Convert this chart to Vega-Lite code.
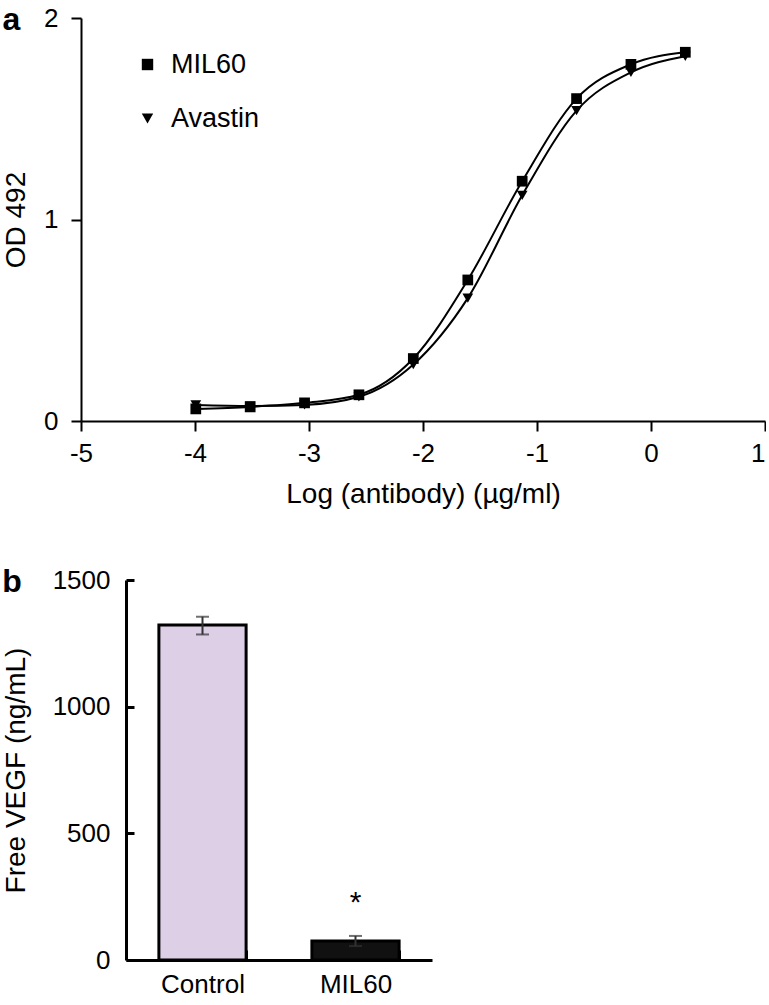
{
  "$schema": "https://vega.github.io/schema/vega-lite/v6.json",
  "padding": {"left": 2, "top": 4, "right": 0, "bottom": 4},
  "background": "white",
  "spacing": 58,
  "columns": 1,
  "align": "none",
  "config": {
    "font": "Liberation Sans",
    "view": {"stroke": null},
    "axis": {
      "grid": false,
      "domainColor": "black",
      "tickColor": "black",
      "labelColor": "black",
      "titleColor": "black",
      "labelFont": "Liberation Sans",
      "titleFont": "Liberation Sans",
      "labelFontSize": 26,
      "titleFontSize": 28,
      "titleFontWeight": "normal"
    },
    "title": {"fontSize": 32, "fontWeight": "bold", "anchor": "start", "frame": "bounds", "color": "black", "font": "Liberation Sans"}
  },
  "concat": [
    {
      "width": 684,
      "height": 403,
      "title": {"text": "a", "dx": 0, "dy": 32, "offset": 0},
      "data": {"values": [
        {"series": "MIL60", "logc": -3.993, "od": 0.06},
        {"series": "MIL60", "logc": -3.516, "od": 0.07},
        {"series": "MIL60", "logc": -3.039, "od": 0.09},
        {"series": "MIL60", "logc": -2.562, "od": 0.13},
        {"series": "MIL60", "logc": -2.085, "od": 0.31},
        {"series": "MIL60", "logc": -1.607, "od": 0.70},
        {"series": "MIL60", "logc": -1.130, "od": 1.19},
        {"series": "MIL60", "logc": -0.653, "od": 1.60},
        {"series": "MIL60", "logc": -0.176, "od": 1.77},
        {"series": "MIL60", "logc": 0.301, "od": 1.83},
        {"series": "Avastin", "logc": -3.993, "od": 0.08},
        {"series": "Avastin", "logc": -3.516, "od": 0.075},
        {"series": "Avastin", "logc": -3.039, "od": 0.08},
        {"series": "Avastin", "logc": -2.562, "od": 0.12},
        {"series": "Avastin", "logc": -2.085, "od": 0.28},
        {"series": "Avastin", "logc": -1.607, "od": 0.61},
        {"series": "Avastin", "logc": -1.130, "od": 1.12},
        {"series": "Avastin", "logc": -0.653, "od": 1.54},
        {"series": "Avastin", "logc": -0.176, "od": 1.73},
        {"series": "Avastin", "logc": 0.301, "od": 1.81}
      ]},
      "encoding": {
        "x": {
          "field": "logc", "type": "quantitative",
          "scale": {"domain": [-5, 1], "nice": false, "zero": false},
          "axis": {"values": [-5, -4, -3, -2, -1, 0, 1], "labelExpr": "'' + datum.value", "labelFlush": false, "labelAlign": {"condition": {"test": "datum.value == 1", "value": "right"}, "value": "center"}, "title": "Log (antibody) (µg/ml)", "tickSize": 10, "labelPadding": 9, "titlePadding": 14, "domainWidth": 2, "tickWidth": 2}
        },
        "y": {
          "field": "od", "type": "quantitative",
          "scale": {"domain": [0, 2], "nice": false},
          "axis": {"values": [0, 1, 2], "labelExpr": "'' + datum.value", "title": "OD 492", "tickSize": 10, "labelPadding": 13, "titlePadding": 13, "domainWidth": 2, "tickWidth": 2}
        }
      },
      "layer": [
        {
          "mark": {"type": "line", "interpolate": "monotone", "color": "black", "strokeWidth": 2},
          "encoding": {"detail": {"field": "series", "type": "nominal"}}
        },
        {
          "mark": {"type": "point", "filled": true, "color": "black", "opacity": 1, "size": 115},
          "encoding": {
            "shape": {
              "field": "series", "type": "nominal",
              "scale": {"domain": ["MIL60", "Avastin"], "range": ["square", "triangle-down"]},
              "legend": {"orient": "none", "legendX": 53, "legendY": 33, "title": null, "labelFontSize": 27, "labelFont": "Liberation Sans", "labelColor": "black", "symbolSize": 130, "symbolFillColor": "black", "symbolStrokeColor": "black", "symbolStrokeWidth": 0, "rowPadding": 26, "labelOffset": 10}
            }
          }
        }
      ]
    },
    {
      "width": 351,
      "height": 380,
      "title": {"text": "b", "dx": 0, "dy": 32, "offset": 0},
      "data": {"values": [
        {"group": "Control", "value": 1322, "lo": 1285, "hi": 1355, "sig": ""},
        {"group": "MIL60", "value": 75, "lo": 55, "hi": 95, "sig": "*"}
      ]},
      "encoding": {
        "x": {
          "field": "group", "type": "nominal", "sort": null,
          "scale": {"range": [45, 351], "paddingInner": 0.43, "paddingOuter": 0.215},
          "axis": {"title": null, "labelAngle": 0, "tickBand": "extent", "tickSize": -10, "labelPadding": 21, "domainWidth": 3, "tickWidth": 3}
        }
      },
      "layer": [
        {
          "mark": {"type": "bar", "stroke": "black", "strokeWidth": 3},
          "encoding": {
            "y": {
              "field": "value", "type": "quantitative", "title": "Free VEGF (ng/mL)",
              "scale": {"domain": [0, 1500], "nice": false},
              "axis": {"values": [0, 500, 1000, 1500], "labelExpr": "'' + datum.value", "title": "Free VEGF (ng/mL)", "offset": -45, "tickSize": -8, "labelPadding": 24, "titlePadding": 22, "domainWidth": 3, "tickWidth": 3}
            },
            "fill": {"field": "group", "type": "nominal", "scale": {"domain": ["Control", "MIL60"], "range": ["#dccfe6", "#111111"]}, "legend": null}
          }
        },
        {
          "mark": {"type": "errorbar", "color": "#333333", "thickness": 2, "ticks": {"color": "#333333", "size": 13, "thickness": 2}},
          "encoding": {
            "y": {"field": "hi", "type": "quantitative", "title": "Free VEGF (ng/mL)"},
            "y2": {"field": "lo"}
          }
        },
        {
          "mark": {"type": "text", "fontSize": 30, "baseline": "bottom", "dy": -18, "color": "black"},
          "encoding": {
            "y": {"field": "hi", "type": "quantitative", "title": "Free VEGF (ng/mL)"},
            "text": {"field": "sig", "type": "nominal"}
          }
        }
      ]
    }
  ]
}
